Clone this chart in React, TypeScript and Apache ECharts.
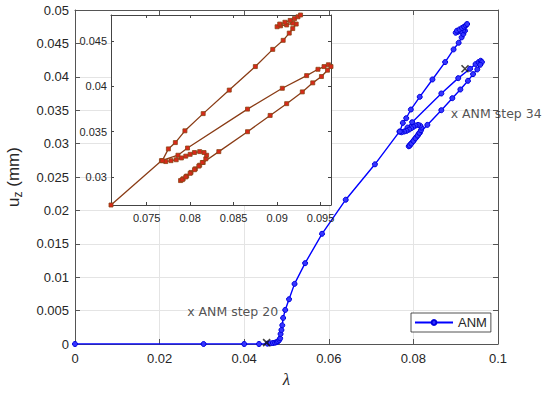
import React, { useEffect, useRef } from 'react';
import * as echarts from 'echarts';

// ANM continuation path (lambda, u_z in mm)
const lambda = [
  0, 0.0304, 0.04, 0.0435, 0.0455, 0.0462, 0.0468, 0.0473, 0.0477, 0.048, 0.0483,
  0.0485, 0.0486, 0.0488, 0.049, 0.0492, 0.0497, 0.0506, 0.0519, 0.0544, 0.0584,
  0.064, 0.0709, 0.0767,
  // middle branch up
  0.0786, 0.0797, 0.0866, 0.0906, 0.0934, 0.0947, 0.0954, 0.0959, 0.0962,
  // lower branch down
  0.0958, 0.0951, 0.0941, 0.0929, 0.0911, 0.0892, 0.0866, 0.0833, 0.0815,
  // hook / squiggle
  0.0811, 0.0806, 0.0801, 0.0796, 0.0792, 0.0789, 0.0791, 0.0795, 0.08, 0.0805,
  0.081, 0.0814, 0.0818, 0.0819, 0.0816, 0.0811, 0.0805, 0.08, 0.0795, 0.079,
  0.0784, 0.0778, 0.0772, 0.0768,
  // upper branch up
  0.0775, 0.0783, 0.0794, 0.0815, 0.0845, 0.0875, 0.0895, 0.0907, 0.0914, 0.0918,
  0.0922,
  // top cluster
  0.0918, 0.0911, 0.0904, 0.09, 0.0903, 0.0909, 0.0915, 0.092, 0.0924, 0.0927,
];
const uz = [
  0, 0, 0, 0, 0.00005, 0.0001, 0.00015, 0.0002, 0.0003, 0.0004, 0.0006,
  0.00085, 0.0015, 0.0021, 0.0028, 0.0039, 0.0051, 0.0067, 0.009, 0.0121, 0.0165,
  0.0216, 0.0269, 0.0318,
  0.0324, 0.0332, 0.0375, 0.0398, 0.0412, 0.0419, 0.0422, 0.0424, 0.0422,
  0.0418, 0.0411, 0.0404, 0.0394, 0.0381, 0.0368, 0.035, 0.0328, 0.0316,
  0.0313, 0.0309, 0.0305, 0.0301, 0.0298, 0.0296, 0.0297, 0.03, 0.0304, 0.0308,
  0.0312, 0.0316, 0.032, 0.0324, 0.0327, 0.0328, 0.0327, 0.0325, 0.0323, 0.0321,
  0.0319, 0.0318, 0.0317, 0.0318,
  0.0331, 0.0338, 0.0351, 0.037, 0.0396, 0.0422, 0.0441, 0.0451, 0.0459, 0.0464,
  0.0469,
  0.047, 0.0468, 0.0467, 0.0466, 0.0469, 0.0471, 0.0473, 0.0475, 0.0477, 0.0479,
];

const insetFromLambda = 0.07;
const insetXTicks = [0.075, 0.08, 0.085, 0.09, 0.095];
const insetYTicks = [0.03, 0.035, 0.04, 0.045];

const stepMarks = [
  [0.0453, 0.0002],
  [0.0922, 0.0412],
];
const annotationNames = ['x ANM step 20', 'x ANM step 34'];
const annotationLambda = [0.0264, 0.0887];
const annotationUz = [0.0048, 0.0345];

const FONT = '"Liberation Sans", Arial, sans-serif';
const DARK = '#262626';

export default function App() {
  const ref = useRef<HTMLDivElement>(null);

  useEffect(() => {
    if (!ref.current) return;
    const chart = echarts.init(ref.current, undefined, { renderer: 'svg' });

    const mainData = lambda.map((l, i) => [l, uz[i]]);
    const insetData = mainData.filter((p) => p[0] >= insetFromLambda);
    const insetXMin = Math.min(...insetData.map((p) => p[0]));
    const insetXMax = Math.max(...insetData.map((p) => p[0]));
    const insetYMin = Math.min(...insetData.map((p) => p[1]));
    const insetYMax = Math.max(...insetData.map((p) => p[1]));

    const mainAxisCommon = {
      type: 'value' as const,
      gridIndex: 0,
      axisLine: { show: true, onZero: false, lineStyle: { color: '#555', width: 1 } },
      axisTick: { show: true, inside: true, length: 5, lineStyle: { color: '#555', width: 1 } },
    };
    const insetAxisCommon = {
      type: 'value' as const,
      gridIndex: 1,
      z: 6,
      axisLine: { show: true, onZero: false, lineStyle: { color: '#444', width: 1 } },
      splitLine: { show: false },
    };

    const option: any = {
      animation: false,
      backgroundColor: '#ffffff',
      grid: [
        { left: 75, top: 10, width: 423, height: 334, show: false, outerBoundsMode: 'none', containLabel: false },
        {
          left: 111, top: 15, width: 220, height: 190, show: true, backgroundColor: '#ffffff',
          borderWidth: 0, z: 5, outerBoundsMode: 'none', containLabel: false,
        },
      ],
      legend: {
        data: ['ANM'],
        left: 411,
        top: 313,
        itemWidth: 38,
        itemHeight: 6,
        itemGap: 5,
        padding: [3, 4, 3, 3],
        borderColor: DARK,
        borderWidth: 0.8,
        backgroundColor: '#fff',
        textStyle: { fontSize: 13, color: DARK, fontFamily: FONT },
        z: 10,
      },
      xAxis: [
        {
          ...mainAxisCommon,
          position: 'bottom',
          min: 0,
          max: 0.1,
          interval: 0.02,
          axisLabel: { color: DARK, fontSize: 13, fontFamily: FONT, margin: 8 },
          splitLine: { show: true, lineStyle: { color: '#e4e4e4', width: 1 } },
          name: 'λ',
          nameLocation: 'middle',
          nameGap: 27,
          nameTextStyle: { fontSize: 17, fontStyle: 'italic', color: DARK, fontFamily: '"Liberation Serif", serif' },
        },
        {
          ...mainAxisCommon,
          position: 'top',
          min: 0,
          max: 0.1,
          interval: 0.02,
          axisLabel: { show: false },
          splitLine: { show: false },
        },
        {
          ...insetAxisCommon,
          position: 'bottom',
          min: insetXMin,
          max: insetXMax,
          axisTick: { show: true, inside: true, length: 3, customValues: insetXTicks, lineStyle: { color: '#444' } },
          axisLabel: { show: true, customValues: insetXTicks, color: DARK, fontSize: 11, fontFamily: FONT, margin: 7 },
        },
        {
          ...insetAxisCommon,
          position: 'top',
          min: insetXMin,
          max: insetXMax,
          axisTick: { show: true, inside: true, length: 3, customValues: insetXTicks, lineStyle: { color: '#444' } },
          axisLabel: { show: false },
        },
      ],
      yAxis: [
        {
          ...mainAxisCommon,
          position: 'left',
          min: 0,
          max: 0.05,
          interval: 0.005,
          axisLabel: { color: DARK, fontSize: 13, fontFamily: FONT, margin: 6 },
          splitLine: { show: true, lineStyle: { color: '#e4e4e4', width: 1 } },
          name: '{u|u}{z|z}{u| (mm)}',
          nameLocation: 'middle',
          nameRotate: 90,
          nameGap: 51,
          nameTextStyle: {
            color: DARK,
            fontFamily: FONT,
            fontSize: 17,
            rich: {
              u: { fontSize: 17, fontFamily: FONT, color: DARK },
              z: { fontSize: 12, fontFamily: FONT, color: DARK, padding: [9, 0, 0, 0] },
            },
          },
        },
        {
          ...mainAxisCommon,
          position: 'right',
          min: 0,
          max: 0.05,
          interval: 0.005,
          axisLabel: { show: false },
          splitLine: { show: false },
        },
        {
          ...insetAxisCommon,
          position: 'left',
          min: insetYMin,
          max: insetYMax,
          axisTick: { show: true, inside: true, length: 3, customValues: insetYTicks, lineStyle: { color: '#444' } },
          axisLabel: { show: true, customValues: insetYTicks, color: DARK, fontSize: 11, fontFamily: FONT, margin: 4 },
        },
        {
          ...insetAxisCommon,
          position: 'right',
          min: insetYMin,
          max: insetYMax,
          axisTick: { show: true, inside: true, length: 3, customValues: insetYTicks, lineStyle: { color: '#444' } },
          axisLabel: { show: false },
        },
      ],
      series: [
        {
          name: 'ANM',
          type: 'line',
          xAxisIndex: 0,
          yAxisIndex: 0,
          data: mainData,
          symbol: 'circle',
          symbolSize: 5,
          showSymbol: true,
          lineStyle: { color: '#0000ff', width: 1.4 },
          itemStyle: { color: '#3535ff', borderColor: '#0000dd', borderWidth: 1 },
          z: 3,
        },
        {
          name: 'inset',
          type: 'line',
          xAxisIndex: 2,
          yAxisIndex: 2,
          data: insetData,
          symbol: 'rect',
          symbolSize: 4,
          showSymbol: true,
          lineStyle: { color: '#8a3c16', width: 1.3 },
          itemStyle: { color: '#d8281a', borderColor: '#8a4514', borderWidth: 0.8 },
          z: 7,
        },
        {
          name: 'steps',
          type: 'scatter',
          xAxisIndex: 0,
          yAxisIndex: 0,
          data: stepMarks,
          symbol: 'path://M0,0L10,10M10,0L0,10',
          symbolSize: 7,
          itemStyle: { color: 'rgba(0,0,0,0)', borderColor: '#111', borderWidth: 1.6 },
          z: 8,
        },
        {
          name: 'notes',
          type: 'scatter',
          xAxisIndex: 0,
          yAxisIndex: 0,
          data: annotationNames.map((n, i) => ({ name: n, value: [annotationLambda[i], annotationUz[i]] })),
          symbolSize: 1,
          itemStyle: { color: 'rgba(0,0,0,0)' },
          label: {
            show: true,
            position: 'right',
            distance: 0,
            formatter: '{b}',
            fontSize: 12.5,
            color: DARK,
            fontFamily: '"DejaVu Sans", sans-serif',
          },
          z: 9,
        },
      ],
    };

    chart.setOption(option);
    return () => chart.dispose();
  }, []);

  return (
    <div
      ref={ref}
      style={{ position: 'fixed', left: 0, top: 0, width: 550, height: 394, background: '#fff' }}
    />
  );
}
